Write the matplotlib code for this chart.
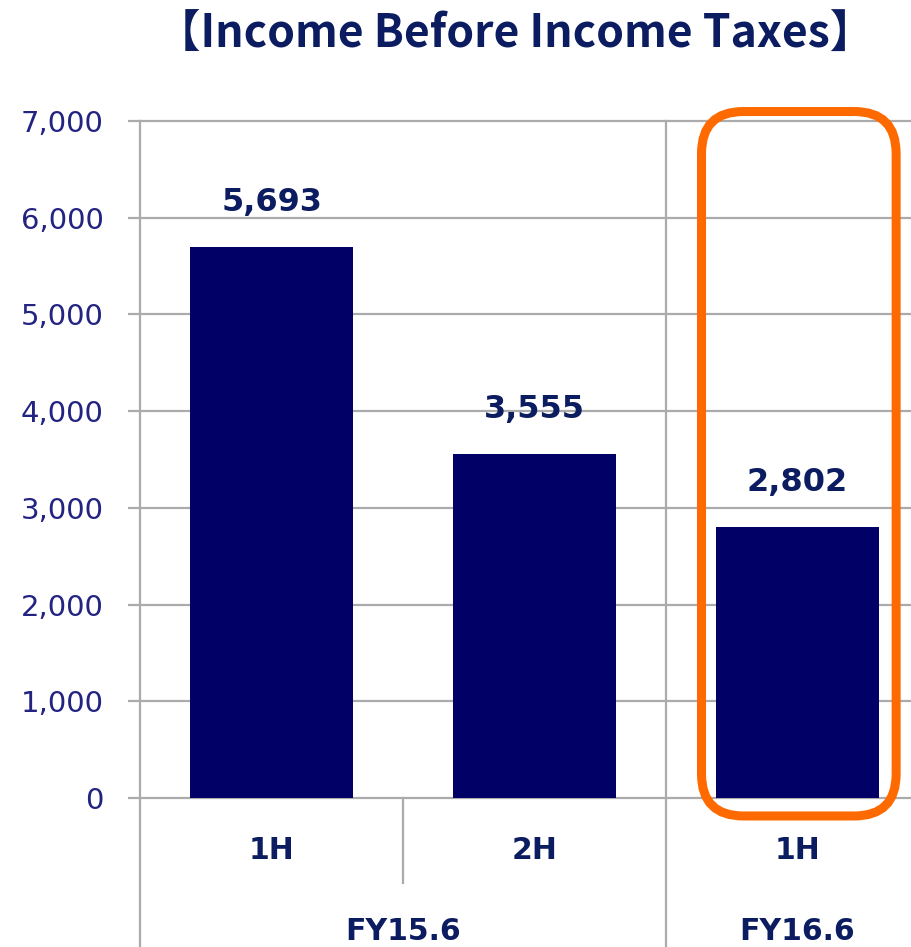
import matplotlib
matplotlib.use("Agg")
import matplotlib.pyplot as plt
import matplotlib.transforms as mtransforms
from matplotlib.patches import FancyBboxPatch

# half-year income before income taxes
periods = ["1H", "2H", "1H"]
income = [5693, 3555, 2802]
fiscal_years = ["FY15.6", "FY16.6"]
fy_span = [2, 1]   # halves per fiscal year
yticks = [0, 1000, 2000, 3000, 4000, 5000, 6000, 7000]

navy = "#000066"
text_navy = "#0c1c60"
tick_blue = "#232382"
grid_gray = "#ababab"
orange = "#ff6a00"

W, H = 911, 947
fig = plt.figure(figsize=(W / 100, H / 100), dpi=100)
ax_left, ax_bottom, ax_w, ax_h = 140, 149, 789, 677
ax = fig.add_axes([ax_left / W, ax_bottom / H, ax_w / W, ax_h / H])

x = list(range(len(income)))
ax.bar(x, income, width=0.62, color=navy, zorder=3)
ax.set_xlim(-0.5, len(income) - 0.5)
ax.set_ylim(0, 7000)

ax.set_yticks(yticks)
ax.set_yticklabels([f"{v:,}" for v in yticks])
ax.yaxis.grid(True, color=grid_gray, lw=1.6)
for gl in ax.yaxis.get_gridlines():
    gl.set_clip_on(False)
ax.set_axisbelow(True)
ax.tick_params(axis="y", length=9, width=1.6, color=grid_gray, pad=17,
               labelsize=21, labelcolor=tick_blue)
ax.set_xticks([])
for s in ["top", "right", "bottom", "left"]:
    ax.spines[s].set_visible(False)

# value labels above the bars
for i, v in zip(x, income):
    ax.annotate(f"{v:,}", (i, v), xytext=(0, 32), textcoords="offset points",
                ha="center", va="center", fontsize=23, fontweight="bold",
                color=text_navy)

# two-level category axis
trans = mtransforms.blended_transform_factory(ax.transData, ax.transAxes)
for i, p in zip(x, periods):
    ax.text(i, -0.078, p, transform=trans, ha="center", va="center",
            fontsize=21.5, fontweight="bold", color=text_navy)

start = -0.5
bounds = [start]
for fy, n in zip(fiscal_years, fy_span):
    ax.text(start + n / 2, -0.197, fy, transform=trans, ha="center", va="center",
            fontsize=21.5, fontweight="bold", color=text_navy)
    start += n
    bounds.append(start)

for b in bounds[:-1]:
    ax.plot([b, b], [1, -0.23], transform=trans, color=grid_gray, lw=1.6,
            clip_on=False, zorder=1)
for k in range(len(x) - 1):
    b = k + 0.5
    if b not in bounds:
        ax.plot([b, b], [0, -0.1256], transform=trans, color=grid_gray, lw=1.6,
                clip_on=False, zorder=1)

# highlight box around the latest half
y_per_px = 7000 / ax_h
x_px_per_unit = ax_w / len(income)
aspect = x_px_per_unit * y_per_px
box = FancyBboxPatch((1.635, -186), 0.74, 7284,
                     boxstyle="round,pad=0,rounding_size=0.16",
                     mutation_aspect=aspect, fill=False, edgecolor=orange,
                     lw=6.5, clip_on=False, zorder=5)
ax.add_patch(box)

fig.text(0.565, 0.963, "【Income Before Income Taxes】", ha="center", va="center",
         fontsize=32, fontweight="bold", color=text_navy,
         family=["Noto Sans CJK JP", "DejaVu Sans"])

fig.savefig("out.png", dpi=100)
